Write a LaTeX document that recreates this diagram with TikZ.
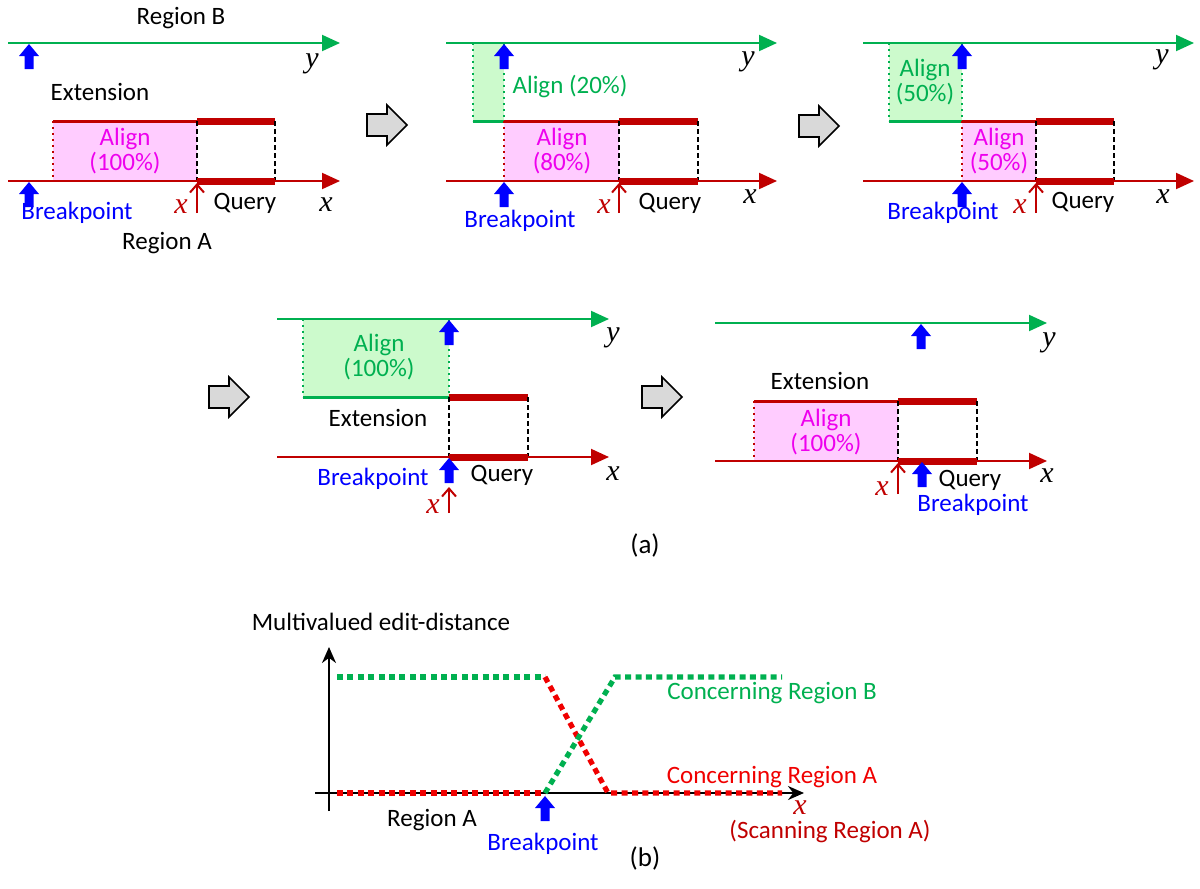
\documentclass[tikz,border=0pt]{standalone}
\usepackage{fontspec}
\setmainfont{Carlito}
\newfontfamily\tms{Liberation Serif}
\usetikzlibrary{arrows.meta}
\definecolor{gr}{RGB}{0,176,80}
\definecolor{dr}{RGB}{192,0,0}
\definecolor{mg}{RGB}{238,0,238}
\definecolor{pk}{RGB}{255,204,255}
\definecolor{lg}{RGB}{204,250,204}
\definecolor{bl}{RGB}{0,0,255}
\definecolor{rd}{RGB}{240,0,0}
\definecolor{gy}{RGB}{217,217,217}
\tikzset{
 lbl/.style={inner sep=0pt, font=\fontsize{12.5}{12.6}\selectfont, align=center},
 var/.style={inner sep=0pt, font=\fontsize{15}{15}\selectfont\tms\itshape},
 gaxis/.style={draw=gr, line width=1pt, -{Triangle[length=9pt,width=8pt]}},
 raxis/.style={draw=dr, line width=1pt, -{Triangle[length=9pt,width=8pt]}},
 baxis/.style={draw=black, line width=1pt, -{Stealth[length=8pt,width=7pt]}},
 thinred/.style={draw=dr, line width=1.5pt},
 thickred/.style={draw=dr, line width=3.5pt},
 greenbot/.style={draw=gr, line width=1.5pt},
 rdot/.style={draw=dr, line width=1pt, dotted},
 gdot/.style={draw=gr, line width=1pt, dotted},
 bdash/.style={draw=black, line width=0.6pt, dash pattern=on 2.5pt off 1.5pt},
 xarrow/.style={draw=dr, line width=1pt, -{Straight Barb[length=4pt,width=7pt]}},
 gdist/.style={draw=gr, line width=2.6pt, dash pattern=on 3pt off 2.2pt},
 rdist/.style={draw=rd, line width=2.6pt, dash pattern=on 3pt off 2.2pt},
 bup/.pic={\fill[bl] (0,0) -- (10,12) -- (4.5,12) -- (4.5,25) -- (-4.5,25) -- (-4.5,12) -- (-10,12) -- cycle;},
 gyarrow/.pic={\filldraw[fill=gy, draw=black, line width=0.8pt] (-20,-11) -- (0,-11) -- (0,-20) -- (20,0) -- (0,20) -- (0,11) -- (-20,11) -- cycle;},
}
\begin{document}
\begin{tikzpicture}[x=0.5pt,y=-0.5pt]
\useasboundingbox (0,0) rectangle (1200,889);
% ================= Panel 1
\node[lbl] (p1rb) at (181,18) {Region B};
\coordinate (p1ys) at (8,43); \coordinate (p1ye) at (340,43);
\draw[gaxis] (p1ys) -- (p1ye);
\pic at (29,44) {bup};
\node[var] (p1y) at (312,64) {y};
\node[lbl] (p1ext) at (100,92) {Extension};
\fill[pk] (53,121) rectangle (197,181);
\draw[thinred] (53,121) -- (197,121);
\draw[thickred] (197,121) -- (275,121);
\draw[rdot] (53,121) -- (53,181);
\draw[bdash] (197,121) -- (197,181);
\draw[bdash] (275,121) -- (275,181);
\coordinate (p1xs) at (8,181); \coordinate (p1xe) at (340,181);
\draw[raxis] (p1xs) -- (p1xe);
\draw[thickred] (197,181) -- (275,181);
\pic at (29,182) {bup};
\node[lbl, text=bl] (p1bp) at (77,213) {Breakpoint};
\coordinate (p1as) at (197,213); \coordinate (p1ae) at (197,183);
\draw[xarrow] (p1as) -- (p1ae);
\node[var, text=dr] (p1xr) at (181,207) {x};
\node[lbl] (p1q) at (245,203) {Query};
\node[var] (p1x) at (326,205) {x};
\node[lbl] (p1ra) at (167,243) {Region A};
\node[lbl, text=mg] (p1al) at (125,151) {Align\\(100\%)};
% ================= Panel 2
\pic at (387,125) {gyarrow};
\fill[lg] (473,43) rectangle (504,121);
\fill[pk] (504,121) rectangle (619,181);
\draw[gdot] (473,43) -- (473,121);
\draw[gdot] (504,43) -- (504,121);
\draw[greenbot] (473,121) -- (504,121);
\draw[thinred] (504,121) -- (619,121);
\draw[thickred] (619,121) -- (698,121);
\draw[rdot] (504,121) -- (504,181);
\draw[bdash] (619,121) -- (619,181);
\draw[bdash] (698,121) -- (698,181);
\coordinate (p2ys) at (446,43); \coordinate (p2ye) at (777,43);
\draw[gaxis] (p2ys) -- (p2ye);
\coordinate (p2xs) at (446,181); \coordinate (p2xe) at (777,181);
\draw[raxis] (p2xs) -- (p2xe);
\draw[thickred] (619,181) -- (698,181);
\pic at (504,44) {bup};
\pic at (504,182) {bup};
\node[var] (p2y) at (748,62) {y};
\node[lbl, text=gr] (p2ag) at (570,87) {Align (20\%)};
\node[lbl, text=mg] (p2am) at (562,151) {Align\\(80\%)};
\node[lbl, text=bl] (p2bp) at (520,221) {Breakpoint};
\coordinate (p2as) at (619,213); \coordinate (p2ae) at (619,183);
\draw[xarrow] (p2as) -- (p2ae);
\node[var, text=dr] (p2xr) at (604,207) {x};
\node[lbl] (p2q) at (670,203) {Query};
\node[var] (p2x) at (750,197) {x};
% ================= Panel 3
\pic at (819,126) {gyarrow};
\fill[lg] (889,43) rectangle (962,121);
\fill[pk] (962,121) rectangle (1036,181);
\draw[gdot] (889,43) -- (889,121);
\draw[gdot] (962,43) -- (962,121);
\draw[greenbot] (889,121) -- (962,121);
\draw[thinred] (962,121) -- (1036,121);
\draw[thickred] (1036,121) -- (1114,121);
\draw[rdot] (962,121) -- (962,181);
\draw[bdash] (1036,121) -- (1036,181);
\draw[bdash] (1114,121) -- (1114,181);
\coordinate (p3ys) at (863,43); \coordinate (p3ye) at (1194,43);
\draw[gaxis] (p3ys) -- (p3ye);
\coordinate (p3xs) at (863,181); \coordinate (p3xe) at (1194,181);
\draw[raxis] (p3xs) -- (p3xe);
\draw[thickred] (1036,181) -- (1114,181);
\pic at (962,44) {bup};
\pic at (962,182) {bup};
\node[var] (p3y) at (1162,60) {y};
\node[lbl, text=gr] (p3ag) at (925,82) {Align\\(50\%)};
\node[lbl, text=mg] (p3am) at (999,151) {Align\\(50\%)};
\node[lbl, text=bl] (p3bp) at (943,213) {Breakpoint};
\coordinate (p3as) at (1036,213); \coordinate (p3ae) at (1036,183);
\draw[xarrow] (p3as) -- (p3ae);
\node[var, text=dr] (p3xr) at (1020,207) {x};
\node[lbl] (p3q) at (1083,202) {Query};
\node[var] (p3x) at (1163,197) {x};
% ================= Panel 4
\pic at (229,397) {gyarrow};
\fill[lg] (303,319) rectangle (449,397);
\draw[gdot] (303,319) -- (303,397);
\draw[gdot] (449,319) -- (449,397);
\draw[greenbot] (303,397) -- (449,397);
\draw[thickred] (449,397) -- (528,397);
\draw[bdash] (449,397) -- (449,457);
\draw[bdash] (528,397) -- (528,457);
\coordinate (p4ys) at (277,319); \coordinate (p4ye) at (609,319);
\draw[gaxis] (p4ys) -- (p4ye);
\coordinate (p4xs) at (277,457); \coordinate (p4xe) at (609,457);
\draw[raxis] (p4xs) -- (p4xe);
\draw[thickred] (449,457) -- (528,457);
\pic at (449,320) {bup};
\pic at (449,458) {bup};
\node[var] (p4y) at (613,338) {y};
\node[lbl, text=gr] (p4ag) at (379,357) {Align\\(100\%)};
\node[lbl] (p4ext) at (378,418) {Extension};
\node[lbl, text=bl] (p4bp) at (373,479) {Breakpoint};
\node[lbl] (p4q) at (502,475) {Query};
\node[var] (p4x) at (613,474) {x};
\coordinate (p4as) at (449,513); \coordinate (p4ae) at (449,487);
\draw[xarrow] (p4as) -- (p4ae);
\node[var, text=dr] (p4xr) at (433,507) {x};
% ================= Panel 5
\pic at (662,397) {gyarrow};
\coordinate (p5ys) at (715,323); \coordinate (p5ye) at (1047,323);
\draw[gaxis] (p5ys) -- (p5ye);
\pic at (921,324) {bup};
\node[var] (p5y) at (1049,343) {y};
\node[lbl] (p5ext) at (820,381) {Extension};
\fill[pk] (754,401) rectangle (898,461);
\draw[thinred] (754,401) -- (898,401);
\draw[thickred] (898,401) -- (977,401);
\draw[rdot] (754,401) -- (754,461);
\draw[bdash] (898,401) -- (898,461);
\draw[bdash] (977,401) -- (977,461);
\coordinate (p5xs) at (715,461); \coordinate (p5xe) at (1047,461);
\draw[raxis] (p5xs) -- (p5xe);
\draw[thickred] (898,461) -- (977,461);
\node[lbl, text=mg] (p5am) at (826,432) {Align\\(100\%)};
\coordinate (p5as) at (898,494); \coordinate (p5ae) at (898,463);
\draw[xarrow] (p5as) -- (p5ae);
\node[var, text=dr] (p5xr) at (882,489) {x};
\pic at (922,462) {bup};
\node[lbl] (p5q) at (970,480) {Query};
\node[lbl, text=bl] (p5bp) at (973,505) {Breakpoint};
\node[var] (p5x) at (1047,476) {x};
% caption a
\node[lbl, font=\fontsize{13.5}{14}\selectfont] (capa) at (645,545) {(a)};
% ================= Panel b
\node[lbl] (mv) at (381,622) {Multivalued edit-distance};
\coordinate (bys) at (329,811); \coordinate (bye) at (329,647);
\draw[baxis] (bys) -- (bye);
\coordinate (bxs) at (315,793); \coordinate (bxe) at (804,793);
\draw[baxis] (bxs) -- (bxe);
\coordinate (bhl) at (337,677); \coordinate (bhm) at (545,677);
\coordinate (bhr) at (615,677); \coordinate (bhe) at (782,677);
\coordinate (bll) at (337,793); \coordinate (blm) at (545,793);
\coordinate (blr) at (608,793); \coordinate (ble) at (782,793);
\draw[gdist] (bhl) -- (bhm);
\draw[rdist] (bll) -- (blm);
\draw[rdist] (bhm) -- (blr) -- (ble);
\draw[gdist] (blm) -- (bhr) -- (bhe);
\pic at (545,796) {bup};
\node[lbl, text=gr] (crb) at (772,693) {Concerning Region B};
\node[lbl, text=rd] (cra) at (772,777) {Concerning Region A};
\node[var, text=dr] (bx) at (800,808) {x};
\node[lbl, text=dr] (scan) at (830,831) {(Scanning Region A)};
\node[lbl] (bra) at (432,820) {Region A};
\node[lbl, text=bl] (bbp) at (543,844) {Breakpoint};
\node[lbl, font=\fontsize{13.5}{14}\selectfont] (capb) at (645,858) {(b)};
\end{tikzpicture}
\end{document}
